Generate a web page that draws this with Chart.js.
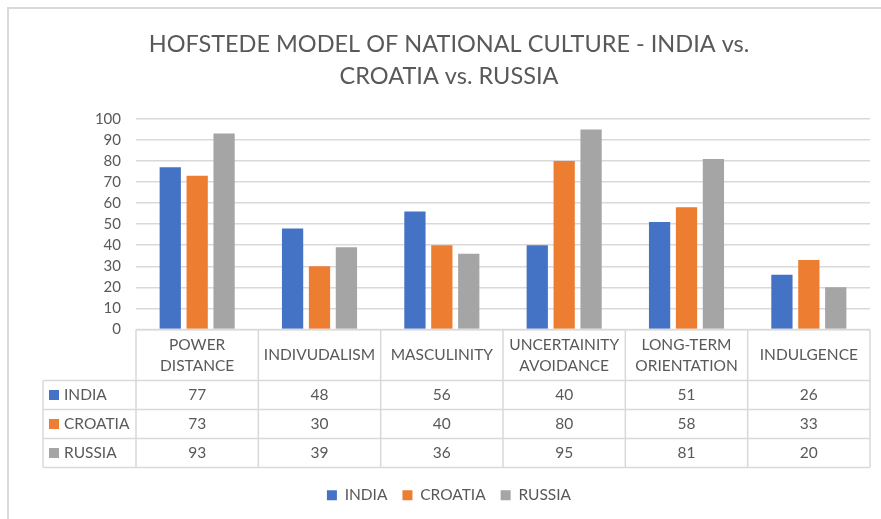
<!DOCTYPE html>
<html lang="en">
<head>
<meta charset="UTF-8">
<title>Hofstede model - India vs. Croatia vs. Russia</title>
<style>
    html, body { margin: 0; padding: 0; background: #fff; overflow: hidden; }
    /* the chart frame, cut off on the right and bottom like the screenshot */
    .frame { position: absolute; left: 7px; top: 7px; width: 900px; height: 540px; border: 2px solid #d9d9d9; }
    canvas { position: absolute; left: 0; top: 0; }
</style>
</head>
<body>
<div class="frame"></div>
<canvas id="chart" width="881" height="519"></canvas>

<script src="https://cdn.jsdelivr.net/npm/chart.js"></script>
<script>
    // Datos
    const dimensions = [["POWER", "DISTANCE"], "INDIVUDALISM", "MASCULINITY", ["UNCERTAINITY", "AVOIDANCE"], ["LONG-TERM", "ORIENTATION"], "INDULGENCE"];
    const india   = [77, 48, 56, 40, 51, 26];
    const croatia = [73, 30, 40, 80, 58, 33];
    const russia  = [93, 39, 36, 95, 81, 20];
    const yTicks  = [0, 10, 20, 30, 40, 50, 60, 70, 80, 90, 100];

    const textColor = "#595959";
    const lineColor = "#d9d9d9";
    const font = "Lato";

    // Tabla de datos debajo del eje x (como en Excel)
    const dataTable = {
        id: "dataTable",
        afterDraw(chart) {
            const ctx = chart.ctx;
            const area = chart.chartArea;
            const x = chart.scales.x;
            const half = (x.getPixelForTick(1) - x.getPixelForTick(0)) / 2;
            const headH = 51, rowH = 29, labelW = 93;
            const top = area.bottom;
            const rowsTop = top + headH;
            const bottom = rowsTop + rowH * chart.data.datasets.length;
            const left = area.left - labelW;

            ctx.save();
            ctx.strokeStyle = lineColor;
            ctx.lineWidth = 1.5;
            ctx.beginPath();
            // horizontales
            ctx.moveTo(area.left, top); ctx.lineTo(area.right, top);
            for (let r = 0; r <= chart.data.datasets.length; r++) {
                const y = rowsTop + r * rowH;
                ctx.moveTo(left, y); ctx.lineTo(area.right, y);
            }
            // verticales
            ctx.moveTo(left, rowsTop); ctx.lineTo(left, bottom);
            for (let i = 0; i < dimensions.length; i++) {
                const cx = x.getPixelForTick(i) - half;
                ctx.moveTo(cx, top); ctx.lineTo(cx, bottom);
            }
            ctx.moveTo(area.right, top); ctx.lineTo(area.right, bottom);
            ctx.stroke();

            ctx.fillStyle = textColor;
            ctx.font = "15.5px " + font;
            ctx.textAlign = "center";
            ctx.textBaseline = "middle";
            // encabezados
            dimensions.forEach((d, i) => {
                const cx = x.getPixelForTick(i);
                const lines = Array.isArray(d) ? d : [d];
                lines.forEach((t, k) => {
                    const y = top + headH / 2 + (k - (lines.length - 1) / 2) * 21;
                    ctx.fillText(t, cx, y);
                });
            });
            // filas
            chart.data.datasets.forEach((ds, r) => {
                const y = rowsTop + r * rowH + rowH / 2;
                ctx.fillStyle = ds.backgroundColor;
                ctx.fillRect(left + 6, y - 5, 10, 10);
                ctx.fillStyle = textColor;
                ctx.textAlign = "left";
                ctx.fillText(ds.label, left + 21, y);
                ctx.textAlign = "center";
                ds.data.forEach((v, i) => ctx.fillText(v, x.getPixelForTick(i), y));
            });
            ctx.restore();
        }
    };

    const chart = new Chart(document.getElementById("chart"), {
        type: "bar",
        data: {
            labels: dimensions,
            datasets: [
                { label: "INDIA",   data: india,   backgroundColor: "#4472C4" },
                { label: "CROATIA", data: croatia, backgroundColor: "#ED7D31" },
                { label: "RUSSIA",  data: russia,  backgroundColor: "#A5A5A5" }
            ]
        },
        options: {
            responsive: false,
            animation: false,
            categoryPercentage: 0.66,
            barPercentage: 0.79,
            layout: { padding: { left: 28, right: 11, top: 28, bottom: 6 } },
            plugins: {
                title: {
                    display: true,
                    text: ["HOFSTEDE MODEL OF NATIONAL CULTURE - INDIA vs.", "CROATIA vs. RUSSIA"],
                    color: textColor,
                    font: { family: font, size: 23.5, weight: "normal", lineHeight: 1.38 },
                    padding: { top: 0, bottom: 26 }
                },
                legend: {
                    position: "bottom",
                    labels: {
                        boxWidth: 10, boxHeight: 10, padding: 15,
                        color: textColor,
                        font: { family: font, size: 15.5 }
                    }
                },
                tooltip: { enabled: false }
            },
            scales: {
                x: {
                    grid: { display: false },
                    border: { display: false },
                    ticks: { display: false },
                    afterFit: s => { s.height = 143; }
                },
                y: {
                    min: 0, max: 100,
                    afterBuildTicks: s => { s.ticks = yTicks.map(v => ({ value: v })); },
                    afterFit: s => { s.width = 108; },
                    grid: { color: lineColor, lineWidth: 1.5, drawTicks: false },
                    border: { display: false },
                    ticks: { color: textColor, padding: 15, font: { family: font, size: 15 } }
                }
            }
        },
        plugins: [dataTable]
    });
</script>
</body>
</html>
